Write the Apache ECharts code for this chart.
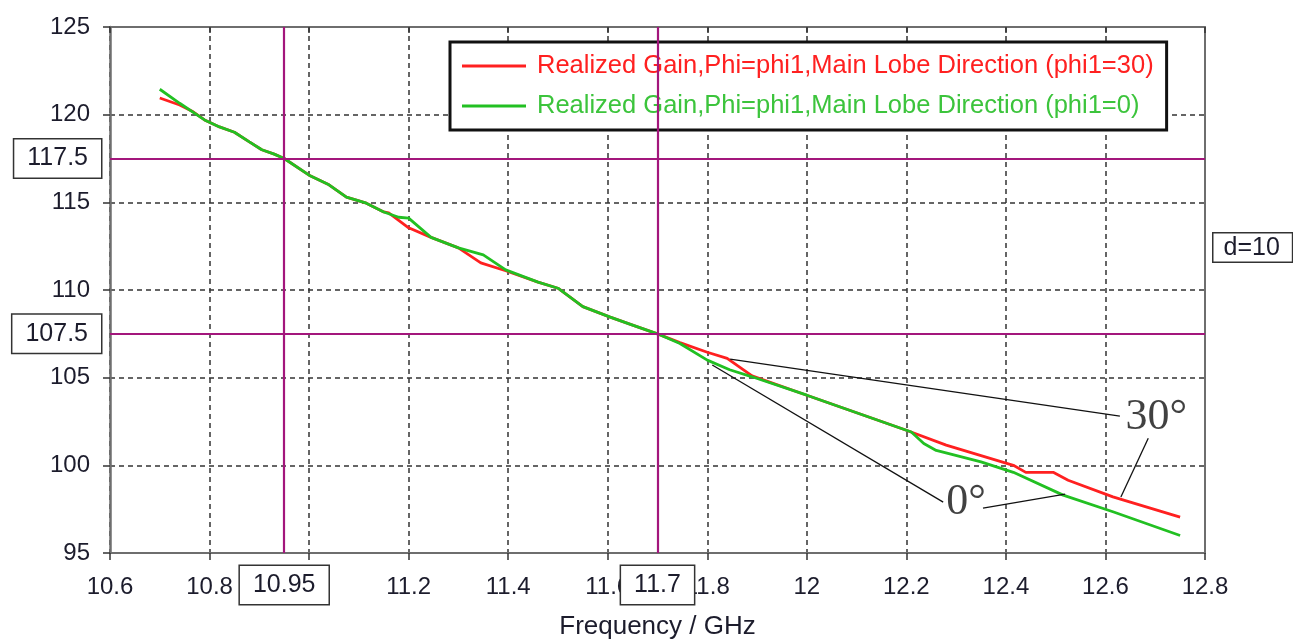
<!DOCTYPE html>
<html>
<head>
<meta charset="utf-8">
<title>Realized Gain vs Frequency</title>
<script src="https://cdn.jsdelivr.net/npm/echarts@6/dist/echarts.min.js"></script>
<style>
  html, body { margin: 0; padding: 0; background: #fff; }
  #chart { width: 1293px; height: 639px; }
</style>
</head>
<body>
<div id="chart"></div>
<script>
// Realized gain, main lobe direction, phi1 = 30
const freqRed = [10.70, 10.74, 10.765, 10.79, 10.82, 10.85, 10.88, 10.905, 10.93, 10.95, 11.00, 11.04, 11.075, 11.115, 11.15, 11.16, 11.20, 11.245, 11.30, 11.345, 11.395, 11.46, 11.50, 11.55, 11.605, 11.65, 11.70, 11.745, 11.80, 11.84, 11.865, 11.89, 12.00, 12.20, 12.28, 12.415, 12.44, 12.495, 12.525, 12.615, 12.75];
const gainRed = [120.95, 120.55, 120.2, 119.7, 119.3, 119.0, 118.45, 118.0, 117.75, 117.5, 116.55, 116.0, 115.3, 114.95, 114.45, 114.4, 113.55, 113.0, 112.4, 111.55, 111.1, 110.45, 110.1, 109.05, 108.45, 108.0, 107.5, 107.0, 106.45, 106.1, 105.6, 105.1, 104.0, 102.0, 101.15, 100.0, 99.6, 99.6, 99.15, 98.2, 97.05];

// Realized gain, main lobe direction, phi1 = 0
const freqGreen = [10.70, 10.74, 10.79, 10.82, 10.85, 10.88, 10.905, 10.93, 10.95, 11.00, 11.04, 11.075, 11.115, 11.15, 11.18, 11.20, 11.245, 11.30, 11.35, 11.395, 11.46, 11.50, 11.55, 11.605, 11.65, 11.70, 11.745, 11.80, 11.845, 11.89, 12.00, 12.20, 12.21, 12.235, 12.26, 12.35, 12.415, 12.515, 12.615, 12.75];
const gainGreen = [121.45, 120.65, 119.7, 119.3, 119.0, 118.45, 118.0, 117.75, 117.5, 116.55, 116.0, 115.3, 114.95, 114.45, 114.15, 114.1, 113.0, 112.4, 112.0, 111.15, 110.45, 110.1, 109.05, 108.45, 108.0, 107.5, 106.95, 106.0, 105.45, 105.05, 104.0, 102.0, 101.9, 101.25, 100.85, 100.2, 99.6, 98.3, 97.35, 96.0];

const seriesNames = [
  'Realized Gain,Phi=phi1,Main Lobe Direction (phi1=30)',
  'Realized Gain,Phi=phi1,Main Lobe Direction (phi1=0)'
];

// Axis ranges
const xRange = { min: 10.6, max: 12.8, step: 0.2 };
const yRange = { min: 95, max: 125, step: 5 };

// Marker lines (frequency / gain)
const markerFreqs = [10.95, 11.7];
const markerGains = [117.5, 107.5];
const markerNote = 'd=10';

// Leader lines for the angle annotations: [from, to] in data units
const leaders30 = [[[11.846, 106.06], [12.629, 102.81]], [[12.686, 101.55], [12.631, 98.19]]];
const leaders0 = [[[11.810, 105.72], [12.274, 97.90]], [[12.354, 97.56], [12.519, 98.36]]];
const angleLabels = [
  { text: '30°', at: [12.702, 102.75] },
  { text: '0°', at: [12.320, 97.90] }
];

const zip = (xs, ys) => xs.map((x, i) => [x, ys[i]]);

const FONT = 'Liberation Sans';
const TEXT = '#1c1c2c';
const AXIS = '#6e6e6e';
const MARK = '#a3167c';
const RED = '#ff2020';
const GREEN = '#22c022';

const boxLabel = {
  show: true,
  position: 'start',
  formatter: p => String(p.value),
  fontFamily: FONT,
  fontSize: 25,
  color: TEXT,
  backgroundColor: '#fff',
  borderColor: '#333',
  borderWidth: 1.5,
  padding: [7, 13, 6, 13]
};

const chart = echarts.init(document.getElementById('chart'), null, { renderer: 'canvas' });

chart.setOption({
  animation: false,
  backgroundColor: '#fff',
  grid: { left: 110, top: 27, width: 1095, height: 526, containLabel: false, outerBoundsMode: 'none' },
  legend: {
    orient: 'vertical',
    left: 450,
    top: 42,
    backgroundColor: '#fff',
    borderColor: '#111',
    borderWidth: 3,
    borderRadius: 0,
    padding: [10, 13, 10, 12],
    itemGap: 12,
    itemWidth: 64,
    itemHeight: 3,
    icon: 'rect',
    data: [
      { name: seriesNames[0], textStyle: { color: RED } },
      { name: seriesNames[1], textStyle: { color: '#3cc43c' } }
    ],
    textStyle: { fontFamily: FONT, fontSize: 25.5, lineHeight: 28, padding: [0, 0, 0, 6] }
  },
  xAxis: [
    {
      type: 'value',
      min: xRange.min, max: xRange.max, interval: xRange.step,
      name: 'Frequency / GHz',
      nameLocation: 'middle',
      nameGap: 61,
      nameTextStyle: { fontFamily: FONT, fontSize: 26, color: TEXT },
      axisLine: { show: true, onZero: false, lineStyle: { color: AXIS, width: 2 } },
      axisTick: { show: true, length: 7, lineStyle: { color: '#333', width: 1.5 } },
      axisLabel: { fontFamily: FONT, fontSize: 24, color: TEXT, margin: 22,
                   formatter: v => String(+v.toFixed(2)) },
      splitLine: { show: true, lineStyle: { color: '#333', width: 1.5, type: [5, 4] } }
    },
    {
      type: 'value', position: 'top',
      min: xRange.min, max: xRange.max, interval: xRange.step,
      axisLine: { show: true, onZero: false, lineStyle: { color: AXIS, width: 2 } },
      axisTick: { show: true, inside: true, length: 6, lineStyle: { color: '#333', width: 1.5 } },
      axisLabel: { show: false },
      splitLine: { show: false }
    }
  ],
  yAxis: [
    {
      type: 'value',
      min: yRange.min, max: yRange.max, interval: yRange.step,
      axisLine: { show: true, onZero: false, lineStyle: { color: AXIS, width: 2.5 } },
      axisTick: { show: true, length: 7, lineStyle: { color: '#333', width: 1.5 } },
      axisLabel: { fontFamily: FONT, fontSize: 24, color: TEXT, margin: 20 },
      splitLine: { show: true, lineStyle: { color: '#333', width: 1.5, type: [5, 4] } }
    },
    {
      type: 'value', position: 'right',
      min: yRange.min, max: yRange.max, interval: yRange.step,
      axisLine: { show: true, onZero: false, lineStyle: { color: AXIS, width: 2 } },
      axisTick: { show: false },
      axisLabel: { show: false },
      splitLine: { show: false }
    }
  ],
  series: [
    {
      // marker lines with their boxed values
      name: 'markers',
      type: 'line',
      data: [],
      z: 1,
      silent: true,
      markLine: {
        silent: true,
        symbol: 'none',
        animation: false,
        lineStyle: { color: MARK, width: 2.2, type: 'solid' },
        data: [
          ...markerFreqs.map(v => ({ xAxis: v, label: { ...boxLabel, distance: 13 } })),
          ...markerGains.map(v => ({ yAxis: v, label: { ...boxLabel, distance: 9 } }))
        ]
      }
    },
    {
      name: seriesNames[0],
      type: 'line',
      data: zip(freqRed, gainRed),
      showSymbol: false,
      symbol: 'none',
      lineStyle: { color: RED, width: 2.8 },
      itemStyle: { color: RED },
      z: 3
    },
    {
      name: seriesNames[1],
      type: 'line',
      data: zip(freqGreen, gainGreen),
      showSymbol: false,
      symbol: 'none',
      lineStyle: { color: GREEN, width: 2.8 },
      itemStyle: { color: GREEN },
      z: 4
    },
    {
      // angle annotations: leader lines and labels
      name: 'angles',
      type: 'scatter',
      data: angleLabels.map(a => ({ value: a.at, label: { formatter: a.text } })),
      symbolSize: 1,
      itemStyle: { color: 'rgba(0,0,0,0)' },
      z: 5,
      silent: true,
      label: {
        show: true,
        position: 'inside',
        fontFamily: 'Liberation Serif',
        fontSize: 44,
        color: '#111'
      },
      markLine: {
        silent: true,
        symbol: 'none',
        animation: false,
        label: { show: false },
        lineStyle: { color: '#111', width: 1.3, type: 'solid' },
        data: [...leaders30, ...leaders0].map(seg => [{ coord: seg[0] }, { coord: seg[1] }])
      }
    }
  ],
  graphic: [
    {
      type: 'text',
      left: 1212,
      top: 232,
      z: 10,
      style: {
        text: markerNote,
        fontFamily: FONT,
        fontSize: 25,
        fill: TEXT,
        backgroundColor: '#fff',
        borderColor: '#333',
        borderWidth: 1.5,
        padding: [2, 12, 1, 10]
      }
    }
  ]
});
</script>
</body>
</html>
